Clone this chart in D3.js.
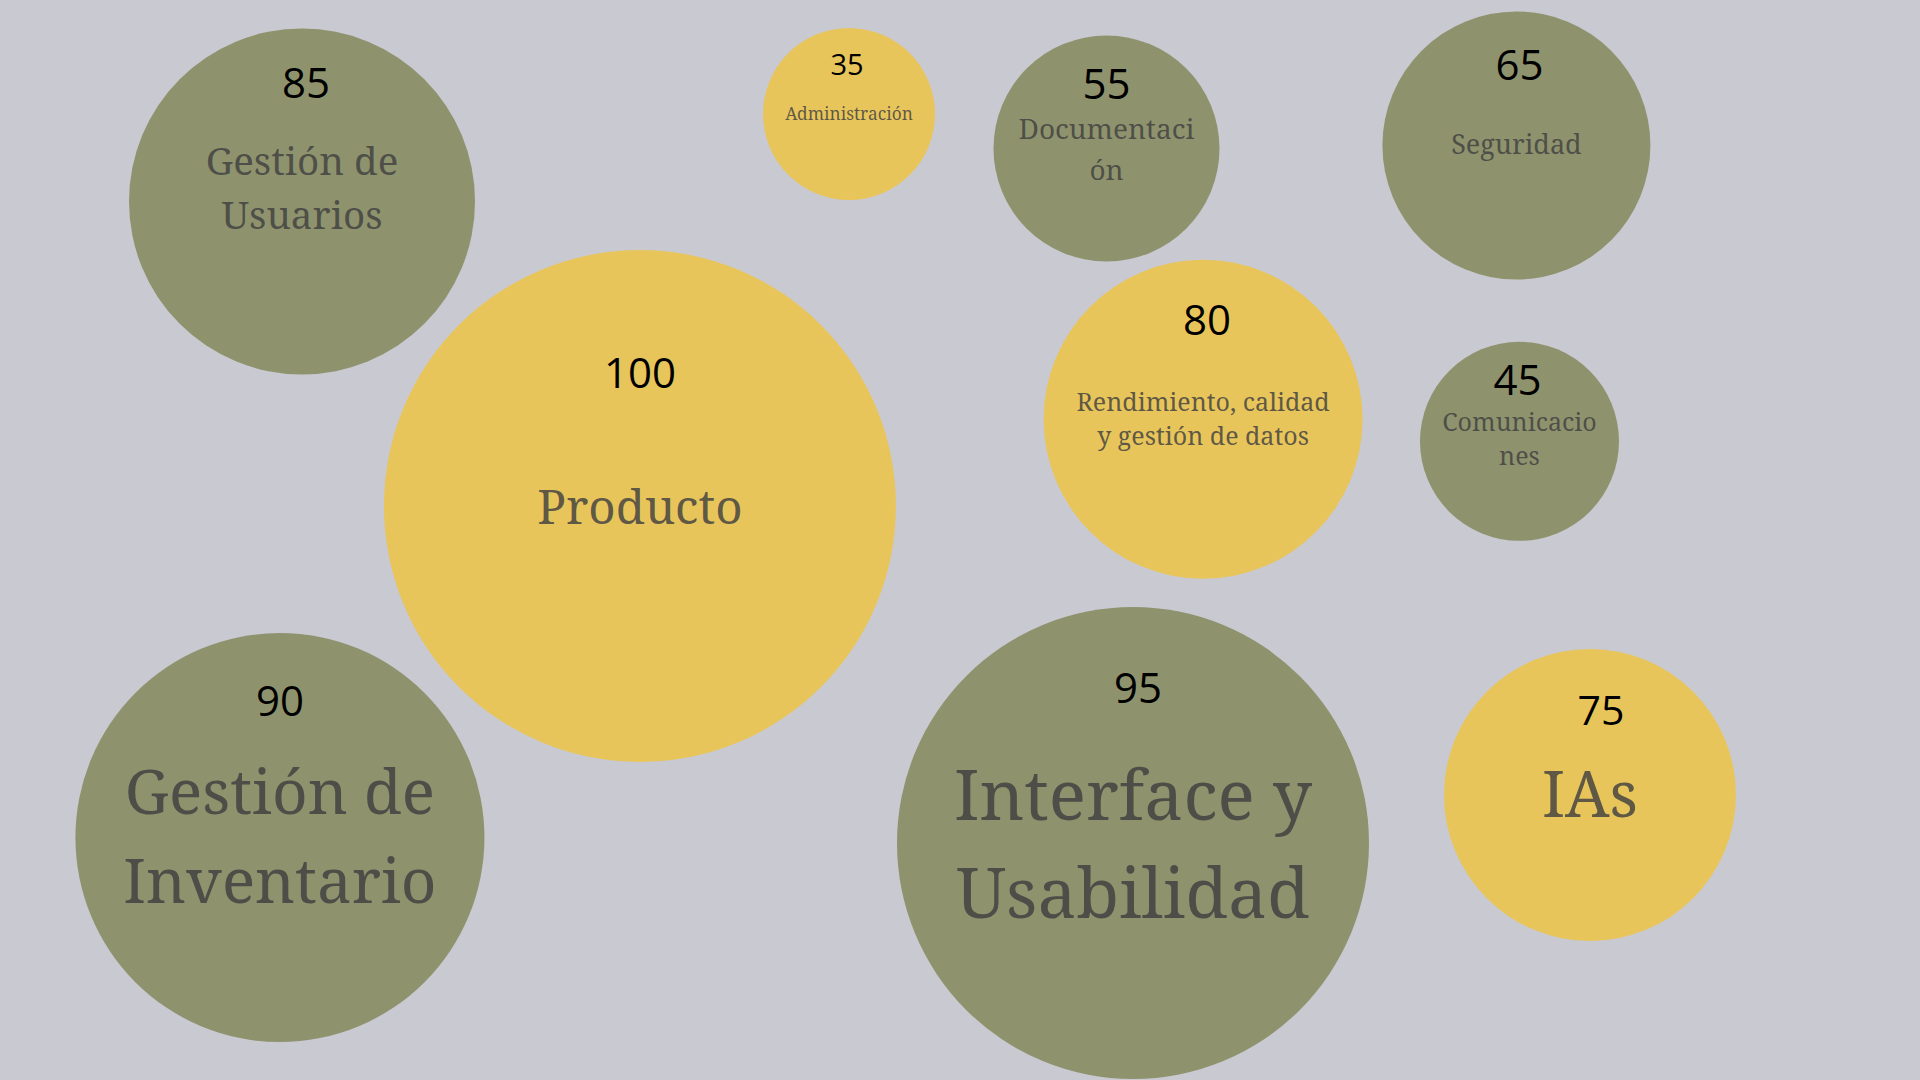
<!DOCTYPE html>
<html>
<head>
<meta charset="utf-8">
<script src="https://cdn.jsdelivr.net/npm/d3@7"></script>
<style>
  html, body { margin: 0; padding: 0; background: #c9c9d1; overflow: hidden; }
  svg { display: block; }
</style>
</head>
<body>
<svg id="chart" width="1920" height="1080"></svg>
<script>
// ---- data ----
const categories = [
  "Gestión de Usuarios", "Administración", "Documentación", "Seguridad", "Producto",
  "Rendimiento, calidad y gestión de datos", "Comunicaciones", "Gestión de Inventario",
  "Interface y Usabilidad", "IAs"
];
const values = [85, 35, 55, 65, 100, 80, 45, 90, 95, 75];
const groups = ["B", "A", "B", "B", "A", "A", "B", "B", "B", "A"];
// label text as wrapped in the original
const labelLines = [
  ["Gestión de", "Usuarios"], ["Administración"], ["Documentaci", "ón"], ["Seguridad"],
  ["Producto"], ["Rendimiento, calidad", "y gestión de datos"], ["Comunicacio", "nes"],
  ["Gestión de", "Inventario"], ["Interface y", "Usabilidad"], ["IAs"]
];

// ---- layout (bubble placement, percent of canvas) ----
const posX = [15.73, 44.22, 57.63, 78.98, 33.33, 62.66, 79.14, 14.58, 59.01, 82.81];
const posY = [18.66, 10.56, 13.75, 13.47, 46.85, 38.82, 40.86, 77.55, 78.06, 73.61];
// text placement / sizing
const numDx = [4, -2, 0, 3, 0, 4, -2, 0, 5, 11];
const numDy = [-104, -39, -50, -65, -118, -84, -46, -122, -140, -70];
const numSize = [42, 29, 42, 42, 42, 42, 42, 42, 42, 41];
const labSize = [38.5, 17.3, 28, 27, 47.5, 25, 25, 62, 69.5, 63];
const labDy = [-26.5, 6, -10, 8.5, 18.5, -8, -10, -23.5, -23, 21.7];
const labLH = [54, 0, 41, 0, 0, 34, 34, 89, 98, 0];

const W = 1920, H = 1080;
const svg = d3.select("#chart");
svg.append("rect").attr("width", W).attr("height", H).attr("fill", "#c9c9d1");

const x = d3.scaleLinear().domain([0, 100]).range([0, W]);
const y = d3.scaleLinear().domain([0, 100]).range([0, H]);
const r = d3.scaleLinear()
  .domain([35, 55, 65, 75, 85, 95, 100])
  .range([86, 113, 134, 146, 173, 236, 256]);
const color = d3.scaleOrdinal().domain(["A", "B"]).range(["#e8c55b", "#8f936d"]);

const data = categories.map((c, i) => ({
  name: c, value: values[i], group: groups[i], lines: labelLines[i], i
}));

const g = svg.selectAll("g.bubble").data(data).join("g")
  .attr("class", "bubble")
  .attr("transform", d => `translate(${x(posX[d.i])},${y(posY[d.i])})`);

g.append("circle")
  .attr("r", d => r(d.value))
  .attr("fill", d => color(d.group));

g.append("text")
  .attr("x", d => numDx[d.i])
  .attr("y", d => numDy[d.i])
  .attr("text-anchor", "middle")
  .attr("font-family", "'Open Sans', 'Noto Sans', sans-serif")
  .attr("font-size", d => numSize[d.i])
  .attr("fill", "#000")
  .text(d => d.value);

const lab = g.append("text")
  .attr("text-anchor", "middle")
  .attr("font-family", "'Noto Serif', 'DejaVu Serif', serif")
  .attr("font-size", d => labSize[d.i])
  .attr("fill", "#404040")
  .attr("fill-opacity", 0.82);

lab.selectAll("tspan").data(d => d.lines.map((t, k) => ({ t, k, i: d.i })))
  .join("tspan")
  .attr("x", 0)
  .attr("y", d => labDy[d.i] + d.k * labLH[d.i])
  .text(d => d.t);
</script>
</body>
</html>
